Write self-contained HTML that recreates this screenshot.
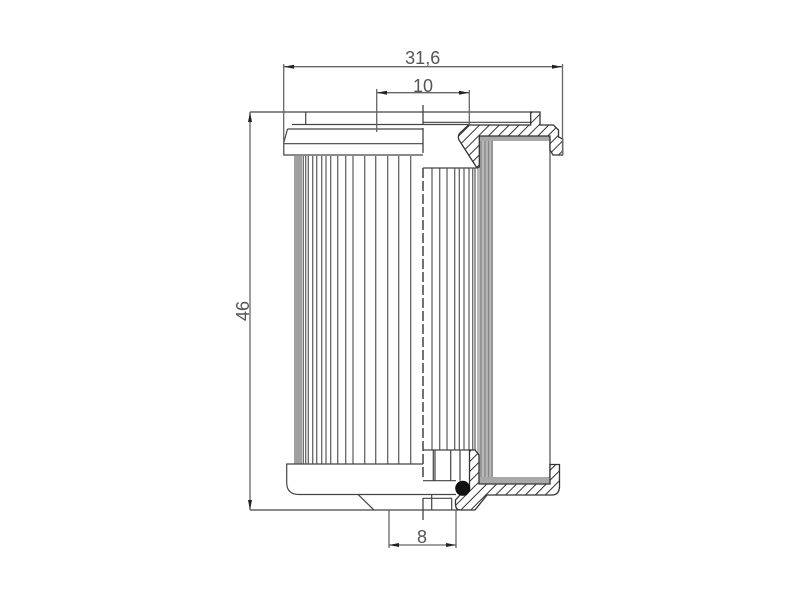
<!DOCTYPE html>
<html><head><meta charset="utf-8"><style>html,body{margin:0;padding:0;background:#fff}svg{display:block}text{font-family:"Liberation Sans",sans-serif;fill:#555;font-size:18px;text-anchor:middle}</style></head><body>
<svg width="800" height="600" viewBox="0 0 800 600" xmlns="http://www.w3.org/2000/svg">
<defs>
<pattern id="h" width="7" height="7" patternUnits="userSpaceOnUse" patternTransform="rotate(45)"><rect width="7" height="7" fill="#fff"/><line x1="0" y1="0" x2="0" y2="7" stroke="#333" stroke-width="2"/></pattern>
</defs>
<rect width="800" height="600" fill="#fff"/>
<!-- gray bands -->
<rect x="294" y="156" width="8" height="308" fill="#a0a0a0"/>
<rect x="477" y="141" width="16" height="336" fill="#b8b8b8"/>
<rect x="479" y="136" width="71" height="5" fill="#a8a8a8"/>
<rect x="479" y="477" width="71" height="7" fill="#a8a8a8"/>
<!-- ribs -->
<path fill="none" stroke="#666" stroke-width="1.3" d="M303.3 156V464M305.7 156V464M308.3 156V464M312.7 156V464M316.7 156V464M321.7 156V464M326 156V464M330.7 156V464M337.7 156V464M345.7 156V464M353 156V464M364.7 156V464M375.7 156V464M387.7 156V464M398.7 156V464M410.7 156V464"/>
<path fill="none" stroke="#666" stroke-width="1.3" d="M432 168V450M439.7 168V450M447 168V450M454.7 168V450M459.3 168V450M464 168V450M469 168V450M472.7 168V450M475 168V450"/>
<path fill="none" stroke="#858585" stroke-width="1.3" d="M481 141V477M485 141V477M488.500 141V477M492 141V477"/>
<path fill="none" stroke="#666" stroke-width="1.4" d="M550 136V477"/>
<!-- top cap -->
<path fill="none" stroke="#444" stroke-width="1.2" d="M250 112H531M305.7 112V124.700M292 124.500H470M423 122.300H531M287.500 129H423M287.500 129L283.700 143V155H423M283.700 143.700H423M423 168H476"/>
<!-- top hatched profile -->
<path fill="url(#h)" stroke="#333" stroke-width="1.3" d="M459.500 133.500L468.500 125H530.700V112H540V125H553.500L558.500 130V137L562.700 139V155H553L550 150V136H479.300V167L477 168L459 140Q457.500 136 459.500 133.500Z"/>
<!-- bottom cap -->
<path fill="none" stroke="#444" stroke-width="1.2" d="M423 464H286.700V483Q287 494.500 299 494.500H358L374 510M358 494.500H456M423 450H470M423 480.700H456M423 498.300H452M250 510H458M433.300 450V480.700M435 450V480.700M450.700 450V480.700M460 450V480.700M431.700 494.500V510M451.700 498.300V510"/>
<!-- bottom hatched profile -->
<path fill="url(#h)" stroke="#333" stroke-width="1.3" d="M469.500 450H475L479 455V484H550V464.500H559.500V487Q559 495 552 495H487L475 510H460Q455.500 510 455.500 504V500L460 495H466L469.500 490Z"/>
<circle cx="462.700" cy="488.300" r="7.500" fill="#111"/>
<!-- center line -->
<path fill="none" stroke="#444" stroke-width="1.300" d="M423 105V125M423 128V153M423 498V520"/>
<path fill="none" stroke="#444" stroke-width="1.500" stroke-dasharray="10 3" d="M423 168V478"/>
<!-- dimensions -->
<path fill="none" stroke="#666" stroke-width="1.300" d="M283.700 64V155M562.500 64V155M283.700 66.700H562.500M376.700 89V132M469.300 90V125M376.700 92.700H469.300M250 112V510M389 510V548M456 510V548M389 545H456"/>
<path fill="#222" d="M284 66.700l10-2v4zM562 66.700l-10-2v4zM377 92.700l10-2v4zM469 92.700l-10-2v4zM250 112l-2 10h4zM250 510l-2-10h4zM389 545l10-2v4zM456 545l-10-2v4z"/>
<text x="422.700" y="64">31,6</text>
<text x="423" y="92">10</text>
<text x="422" y="543">8</text>
<text x="0" y="0" transform="translate(249,311) rotate(-90)">46</text>
</svg>
</body></html>
